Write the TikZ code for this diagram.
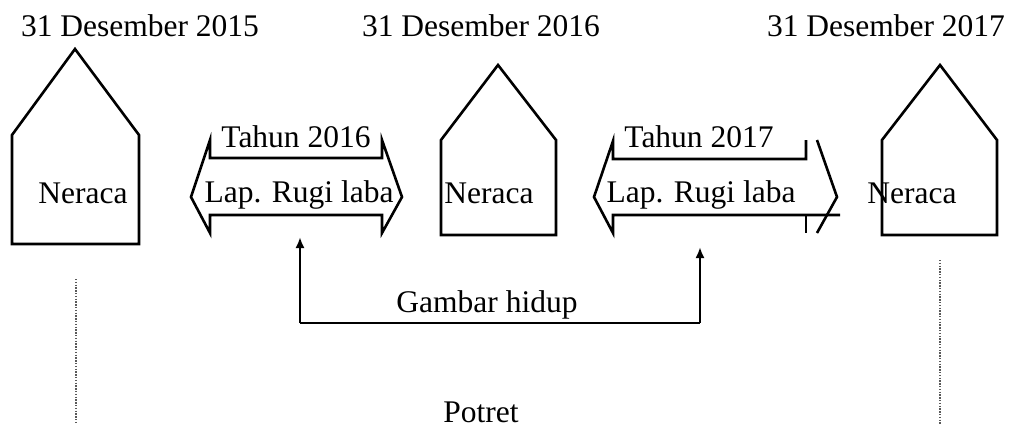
\documentclass[tikz,border=0pt]{standalone}
\usepackage{fontspec}
\setmainfont{Liberation Serif}
\usetikzlibrary{arrows.meta}
\begin{document}
\begin{tikzpicture}[x=1pt,y=-1pt,
  shp/.style={line width=2.6pt,line join=miter},
  lbl/.style={inner sep=0pt,anchor=base,font=\fontsize{31.5}{36}\selectfont},
  conn/.style={line width=2.6pt,-{Latex[length=11pt,width=9pt]}},
  dotline/.style={line width=1.6pt,gray!70!black,dash pattern=on 1.4pt off 1.4pt}]
\useasboundingbox (0,0) rectangle (1010,429);
% dates
\node[lbl] (d15) at (140,36) {31 Desember 2015};
\node[lbl] (d16) at (481,36) {31 Desember 2016};
\node[lbl] (d17) at (886,36) {31 Desember 2017};
% houses
\draw[shp] (12,244) -- (12,135) -- (75,49) -- (139,135) -- (139,244) -- cycle;
\draw[shp] (441,235) -- (441,140) -- (498,65) -- (556,140) -- (556,235) -- cycle;
\draw[shp] (882,235) -- (882,140) -- (940,65) -- (997,140) -- (997,235) -- cycle;
\node[lbl] (n1) at (83,203) {Neraca};
\node[lbl] (n2) at (489,203) {Neraca};
\node[lbl] (n3) at (912,203) {Neraca};
% arrow 1
\draw[shp] (191,197) -- (210,140) -- (210,158) -- (382,158) -- (382,140) -- (402,197)
  -- (382,233) -- (382,215) -- (210,215) -- (210,233) -- cycle;
\node[lbl] (t16) at (296,147) {Tahun 2016};
\node[lbl] (r16) at (299,202) {Lap. Rugi laba};
% arrow 2 (broken)
\draw[shp] (806,140) -- (806,159) -- (613,159) -- (613,141) -- (594,197) -- (613,233) -- (613,215) -- (840,215);
\draw[shp] (806,215) -- (806,233);
\draw[shp] (817,140) -- (837,197) -- (817,233);
\node[lbl] (t17) at (699,147) {Tahun 2017};
\node[lbl] (r17) at (701,202) {Lap. Rugi laba};
% Gambar hidup connector
\coordinate (a1) at (300,237);
\coordinate (a2) at (700,247);
\coordinate (c1) at (300,323);
\coordinate (c2) at (700,323);
\draw[conn] (c1) -- (a1);
\draw[conn] (c2) -- (a2);
\draw[line width=2.6pt] (c1) -- (c2);
\node[lbl] (gh) at (487,312) {Gambar hidup};
% dotted lines
\coordinate (p1t) at (76,279);
\coordinate (p1b) at (76,424);
\coordinate (p2t) at (940,260);
\coordinate (p2b) at (940,424);
\draw[dotline] (p1t) -- (p1b);
\draw[dotline] (p2t) -- (p2b);
\node[lbl] (pt) at (481,422) {Potret};
\end{tikzpicture}
\end{document}
